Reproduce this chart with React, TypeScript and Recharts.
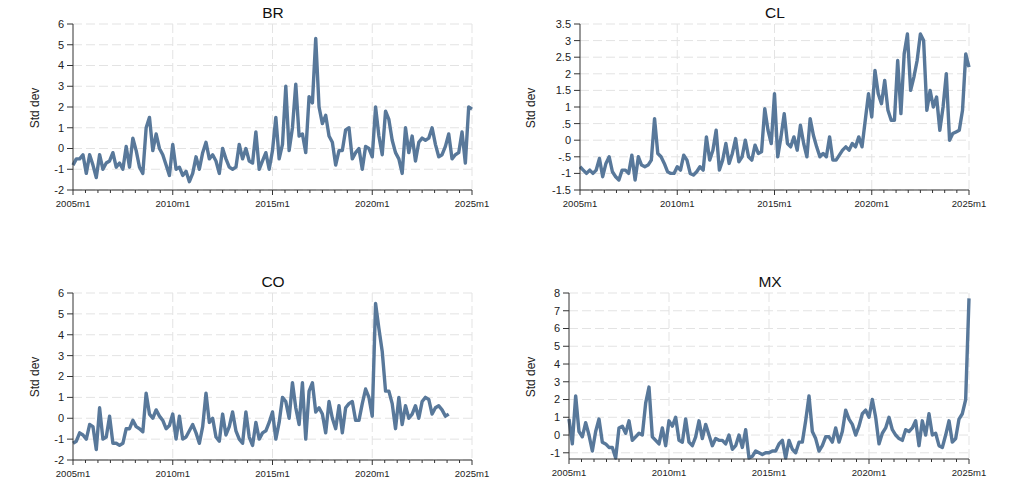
import { CartesianGrid, Line, LineChart, XAxis, YAxis } from 'recharts';

// bimonthly readings, 2005m1 onward (index * 2 = months since 2005m1)
const brValues = [
  -0.8, -0.5, -0.5, -0.3, -1.2, -0.3, -0.8, -1.4, -0.3, -1.0,
  -0.7, -0.6, -0.2, -0.9, -0.7, -1.0, 0.1, -0.9, 0.5, -0.1,
  -0.9, -1.2, 1.0, 1.5, -0.1, 0.7, 0.0, -0.3, -0.8, -1.3,
  0.2, -1.0, -0.9, -1.3, -1.1, -1.6, -1.2, -0.4, -1.0, -0.2,
  0.3, -0.5, -0.3, -0.6, -1.2, 0.0, -0.5, -0.9, -1.0, -0.9,
  0.2, -0.5, 0.0, -0.6, -0.7, 0.8, -1.0, -0.6, -0.2, -1.0,
  -0.1, 1.5, -0.5, 0.2, 3.0, -0.1, 1.0, 3.1, 0.6, 0.7,
  -0.2, 2.5, 2.2, 5.3, 2.0, 1.2, 1.6, 0.6, 0.3, -0.8,
  -0.1, -0.1, 0.9, 1.0, -0.5, -0.2, 0.0, -1.0, 0.1, 0.0,
  -0.4, 2.0, 0.6, -0.3, 1.8, 1.4, 0.4, -0.2, -0.5, -1.2,
  1.0, -0.2, 0.6, -0.6, 0.3, 0.5, 0.4, 0.5, 1.0, 0.2,
  -0.4, -0.3, 0.1, 0.7, -0.5, -0.3, -0.2, 0.8, -0.7, 2.0,
  1.9
];

const clValues = [
  -0.8, -0.9, -1.0, -0.9, -1.0, -0.9, -0.55, -1.1, -0.7, -0.5,
  -0.95, -1.1, -1.2, -0.9, -0.9, -1.0, -0.45, -1.2, -0.5, -0.75,
  -0.8, -0.75, -0.6, 0.65, -0.4, -0.5, -0.7, -0.95, -1.0, -1.0,
  -0.8, -0.9, -0.45, -0.6, -1.0, -1.05, -0.95, -0.8, -0.9, 0.1,
  -0.6, -0.3, 0.3, -0.9, -0.6, -0.1, -0.7, -0.4, 0.05, -0.65,
  -0.5, 0.0, -0.5, -0.6, -0.15, -0.4, -0.35, 0.95, 0.3, -0.1,
  1.4, -0.5, 0.1, 0.8, -0.1, -0.2, 0.1, -0.3, 0.45, -0.1,
  -0.5, 0.65, 0.15, -0.2, -0.5, -0.4, -0.5, 0.1, -0.6, -0.6,
  -0.45, -0.3, -0.2, -0.3, -0.1, -0.2, 0.1, -0.2, 0.6, 1.4,
  0.7, 2.1, 1.4, 1.1, 1.8, 0.9, 0.6, 0.6, 2.4, 0.8,
  2.6, 3.2, 1.5, 1.9, 2.4, 3.2, 3.0, 0.9, 1.5, 1.0,
  1.3, 0.3, 1.0, 2.0, 0.0, 0.2, 0.25, 0.3, 0.9, 2.6,
  2.2
];

const coValues = [
  -1.2, -1.1, -0.7, -0.8, -1.0, -0.3, -0.4, -1.5, 0.5, -1.0,
  -0.9, 0.1, -1.2, -1.2, -1.3, -1.2, -0.5, -0.5, -0.1, -0.4,
  -0.5, -0.65, 1.2, 0.2, 0.0, 0.4, 0.1, -0.1, -0.5, -0.35,
  0.2, -1.0, 0.1, -1.0, -0.9, -0.6, -0.3, -0.7, -1.2, -0.4,
  1.2, -0.2, 0.0, -0.9, -1.1, 0.2, -0.8, -0.4, 0.3, -0.6,
  -1.0, -1.2, 0.3, -0.9, -1.3, -0.2, -1.0, -0.7, -0.6, -0.2,
  0.3, -1.0, -0.2, 1.0, 0.8, 0.0, 1.7, 0.5, -0.3, 1.7,
  -1.0, 1.3, 1.7, 0.3, 0.5, 0.2, -0.7, 0.8, 0.0, -0.5,
  0.6, -0.7, 0.5, 0.7, 0.8, -0.1, -0.1, 0.7, 1.4, 1.0,
  0.1, 5.5, 4.3, 3.2, 1.3, 1.3, 0.7, -0.5, 1.0, -0.3,
  0.6, 0.0, 0.2, 0.6, 0.0, 0.8, 1.0, 0.9, 0.2, 0.5,
  0.6, 0.4, 0.1, 0.2
];

const mxValues = [
  0.9, -0.5, 2.2, 0.2, -0.1, 0.7, 0.0, -0.9, 0.2, 0.9,
  -0.4, -0.5, -0.7, -0.7, -1.3, 0.4, 0.5, 0.1, 0.8, -0.3,
  -0.1, 0.1, 0.0, 1.8, 2.7, -0.1, -0.3, -0.5, 0.4, -0.6,
  0.8, 0.5, 1.0, -0.3, -0.4, 0.9, -0.4, -0.6, -0.1, 0.8,
  -0.2, 0.6, 0.0, -0.6, -0.2, -0.3, -0.3, -0.5, 0.0, -0.8,
  -0.6, 0.0, -0.7, 0.3, -1.3, -1.2, -0.9, -1.0, -1.1, -1.0,
  -1.0, -0.9, -0.9, -0.5, -0.3, -1.3, -0.3, -0.8, -1.0, -0.4,
  -0.4, 0.8, 2.2, 0.2, -0.2, -0.9, -0.6, -0.1, -0.1, -0.4,
  0.4, -0.4, 0.2, 1.4, 0.9, 0.6, 0.0, 0.5, 1.2, 1.4,
  1.0, 2.0, 1.0, -0.5, 0.1, 0.4, 1.0, 0.3, 0.0, -0.2,
  -0.3, 0.3, 0.2, 0.4, 0.8, -0.6, 0.8, 0.0, 1.2, 0.0,
  0.1, -0.6, -0.7, 0.0, 0.8, -0.4, -0.2, 0.9, 1.2, 2.0,
  7.7
];

const xMajor = [0, 60, 120, 180, 240];
const xLabels = ['2005m1', '2010m1', '2015m1', '2020m1', '2025m1'];
const xMinor = Array.from({ length: 33 }, (_, i) => i * 7.5);

const ticksWide = [-2, -1, 0, 1, 2, 3, 4, 5, 6];
const ticksCl = [-1.5, -1, -0.5, 0, 0.5, 1, 1.5, 2, 2.5, 3, 3.5];
const ticksMx = [-1, 0, 1, 2, 3, 4, 5, 6, 7, 8];

const LINE = '#58789a';
const FONT = '"Liberation Sans", Arial, sans-serif';

function toRows(values: number[]) {
  return values.map((v, i) => ({ m: i * 2, v }));
}

function stataNum(v: number) {
  return String(v).replace(/^(-?)0\./, '$1.');
}

function MonthTick(props: any) {
  const { x, y, payload } = props;
  const idx = xMajor.indexOf(payload.value);
  return (
    <g>
      <line x1={x} x2={x} y1={y} y2={y + (idx >= 0 ? 5 : 3)} stroke="#333" />
      {idx >= 0 && (
        <text x={x} y={y + 17} textAnchor="middle" fontSize={9.5} fill="#222" fontFamily={FONT}>
          {xLabels[idx]}
        </text>
      )}
    </g>
  );
}

interface PanelProps {
  title: string;
  values: number[];
  left: number;
  top: number;
  axisWidth: number;
  marginTop: number;
  marginRight: number;
  marginBottom: number;
  domain: [number, number];
  ticks: number[];
  titleX: number;
  titleY: number;
  labelX: number;
  labelY: number;
}

function Panel(p: PanelProps) {
  return (
    <>
      <div style={{ position: 'absolute', left: p.left, top: p.top }}>
        <LineChart
          width={500}
          height={230}
          data={toRows(p.values)}
          margin={{ top: p.marginTop, right: p.marginRight, bottom: p.marginBottom, left: 0 }}
        >
          <CartesianGrid
            stroke="#e3e3e3"
            strokeDasharray="9 4"
            horizontalValues={p.ticks}
            verticalValues={[60, 120, 180, 240]}
          />
          <XAxis
            dataKey="m"
            type="number"
            domain={[0, 240]}
            ticks={xMinor}
            interval={0}
            height={25}
            tickSize={0}
            tickMargin={0}
            tickLine={false}
            tick={(tp: any) => <MonthTick {...tp} />}
            axisLine={{ stroke: '#333' }}
          />
          <YAxis
            type="number"
            domain={p.domain}
            ticks={p.ticks}
            interval={0}
            width={p.axisWidth}
            tickSize={6}
            tickMargin={3}
            tickFormatter={stataNum}
            tick={{ fontSize: 11, fill: '#222', fontFamily: FONT }}
            tickLine={{ stroke: '#333' }}
            axisLine={{ stroke: '#333' }}
          />
          <Line
            type="linear"
            dataKey="v"
            stroke={LINE}
            strokeWidth={3.4}
            strokeLinejoin="round"
            dot={false}
            isAnimationActive={false}
          />
        </LineChart>
      </div>
      <div
        style={{
          position: 'absolute',
          left: p.titleX - 40,
          top: p.titleY - 10,
          width: 80,
          height: 20,
          lineHeight: '20px',
          textAlign: 'center',
          fontSize: 15.5,
          color: '#111'
        }}
      >
        {p.title}
      </div>
      <div
        style={{
          position: 'absolute',
          left: p.labelX - 40,
          top: p.labelY - 8,
          width: 80,
          height: 16,
          lineHeight: '16px',
          textAlign: 'center',
          fontSize: 12,
          color: '#222',
          transform: 'rotate(-90deg)'
        }}
      >
        Std dev
      </div>
    </>
  );
}

export default function App() {
  return (
    <div
      style={{
        position: 'absolute',
        left: 0,
        top: 0,
        width: 1024,
        height: 486,
        background: '#fff',
        fontFamily: FONT,
        overflow: 'hidden'
      }}
    >
      <Panel
        title="BR"
        values={brValues}
        left={0}
        top={0}
        axisWidth={73}
        marginTop={24}
        marginRight={28}
        marginBottom={15}
        domain={[-2, 6]}
        ticks={ticksWide}
        titleX={273}
        titleY={13}
        labelX={35}
        labelY={108}
      />
      <Panel
        title="CL"
        values={clValues}
        left={500}
        top={0}
        axisWidth={80}
        marginTop={24}
        marginRight={31}
        marginBottom={15}
        domain={[-1.5, 3.5]}
        ticks={ticksCl}
        titleX={775}
        titleY={13}
        labelX={531}
        labelY={108}
      />
      <Panel
        title="CO"
        values={coValues}
        left={0}
        top={260}
        axisWidth={73}
        marginTop={33}
        marginRight={28}
        marginBottom={5}
        domain={[-2, 6]}
        ticks={ticksWide}
        titleX={273}
        titleY={282}
        labelX={35}
        labelY={377}
      />
      <Panel
        title="MX"
        values={mxValues}
        left={500}
        top={260}
        axisWidth={69}
        marginTop={33}
        marginRight={31}
        marginBottom={6}
        domain={[-1.35, 8]}
        ticks={ticksMx}
        titleX={770}
        titleY={282}
        labelX={531}
        labelY={377}
      />
    </div>
  );
}
